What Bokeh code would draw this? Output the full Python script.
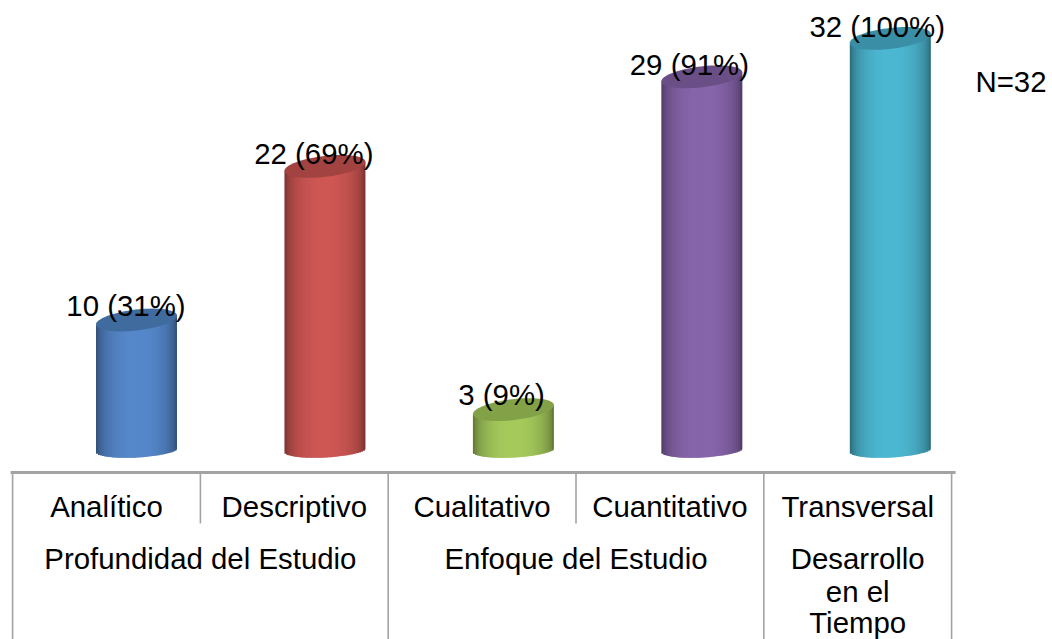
import numpy as np
from bokeh.embed import file_html
from bokeh.resources import INLINE
from bokeh.plotting import figure
from bokeh.core.properties import value
from bokeh.models import Range1d, Label

categories = ["Analítico", "Descriptivo", "Cualitativo", "Cuantitativo", "Transversal"]
counts = [10, 22, 3, 29, 32]
percents = [31, 69, 9, 91, 100]
centre_colors = ["#5688cb", "#cf5754", "#a6cb5c", "#8866ac", "#4db8d2"]
cap_colors = ["#3f6b9e", "#a24341", "#83a146", "#6a4f87", "#3a8ea5"]
groups = ["Profundidad del Estudio", "Enfoque del Estudio"]
group_last = ["Desarrollo", "en el", "Tiempo"]
note = "N=32"

W, H = 1052, 639
X0, DX = 106.0, 187.8      # px of category 0, px per category
Y0, DY = 447.5, 12.8       # px of value 0, px per unit
FONT = value("Liberation Sans")
SIZE = "29.4px"
LINE = "#a3a3a3"

p = figure(width=W, height=H, output_backend="svg", toolbar_location=None,
           min_border=0, margin=(0, 0, 0, 0),
           x_range=Range1d(-X0 / DX, (W - X0) / DX),
           y_range=Range1d((Y0 - H) / DY, Y0 / DY))
p.axis.visible = False
p.grid.visible = False
p.outline_line_color = None

ux, uy = lambda px: px / DX, lambda px: px / DY
SHIFT, A = ux(30.0), ux(40.5)
DRIFT = ux(0.65)           # the 3D perspective spreads the cylinders slightly
CAP_B, CAP_TILT = uy(10.5), uy(9) / ux(81)
BASE_B, BASE_TILT, BASE_DROP = uy(7.5), uy(4.5) / ux(81), uy(2)


def shade(hex_color, t):
    c = np.array([int(hex_color[k:k + 2], 16) for k in (1, 3, 5)], float)
    f = 0.50 + 0.50 * np.sqrt(max(0.0, 1 - abs(t) ** 2.2))
    return "#%02x%02x%02x" % tuple(int(v) for v in c * f)


for i, (v, col, cap) in enumerate(zip(counts, centre_colors, cap_colors)):
    ts = np.linspace(-1, 1, 41)
    cx = i + SHIFT + i * DRIFT
    left = cx + ts[:-1] * A
    right = np.minimum(cx + ts[1:] * A + ux(1.5), cx + A)
    mids = (ts[:-1] + ts[1:]) / 2
    bottom = -BASE_DROP + mids * A * BASE_TILT - BASE_B * np.sqrt(np.clip(1 - mids ** 2, 0, 1))
    top = v + mids * A * CAP_TILT
    colors = [shade(col, t) for t in mids]
    p.quad(left=left, right=right, bottom=bottom, top=top,
           fill_color=colors, line_color=None)
    th = np.linspace(0, 2 * np.pi, 80)
    ex = np.cos(th) * A
    ey = np.sin(th) * CAP_B + ex * CAP_TILT
    p.patch(cx + ex, v + ey, fill_color=cap, line_color=None)

# table under the bars
edges = np.arange(len(categories) + 1) - 0.5
base = uy(-24.5)
tall = [0, 2, 4, 5]
short = [1, 3]
p.segment(x0=[edges[0] - ux(2)], x1=[edges[-1] + ux(4)], y0=[base], y1=[base], line_color=LINE, line_width=3)
p.segment(x0=edges[tall], x1=edges[tall], y0=base, y1=uy(-192), line_color=LINE, line_width=1.6)
p.segment(x0=edges[short], x1=edges[short], y0=base, y1=uy(-75.5), line_color=LINE, line_width=1.6)

txt = dict(text_font=FONT, text_font_size=SIZE, text_color="#000000",
           text_align="center", text_baseline="middle")

x = np.arange(len(categories))
p.text(x=x, y=[uy(-58.5)] * 5, text=categories, **txt)
p.text(x=[0.5, 2.5], y=[uy(-110.5)] * 2, text=groups, **txt)
p.text(x=[4] * 3, y=[uy(-110.5), uy(-143.5), uy(-174)], text=group_last, **txt)
label_y = [uy(15.5) + c * 12.69 / DY for c in counts]
p.text(x=x + ux(19.5), y=label_y, text=[f"{c} ({q}%)" for c, q in zip(counts, percents)], **txt)
p.add_layout(Label(x=1046, y=H - 81, x_units="screen", y_units="screen", text=note,
                   text_font="Liberation Sans", text_font_size=SIZE, text_color="#000000",
                   text_align="right", text_baseline="middle"))

open("out.html", "w").write(file_html(p, INLINE))
